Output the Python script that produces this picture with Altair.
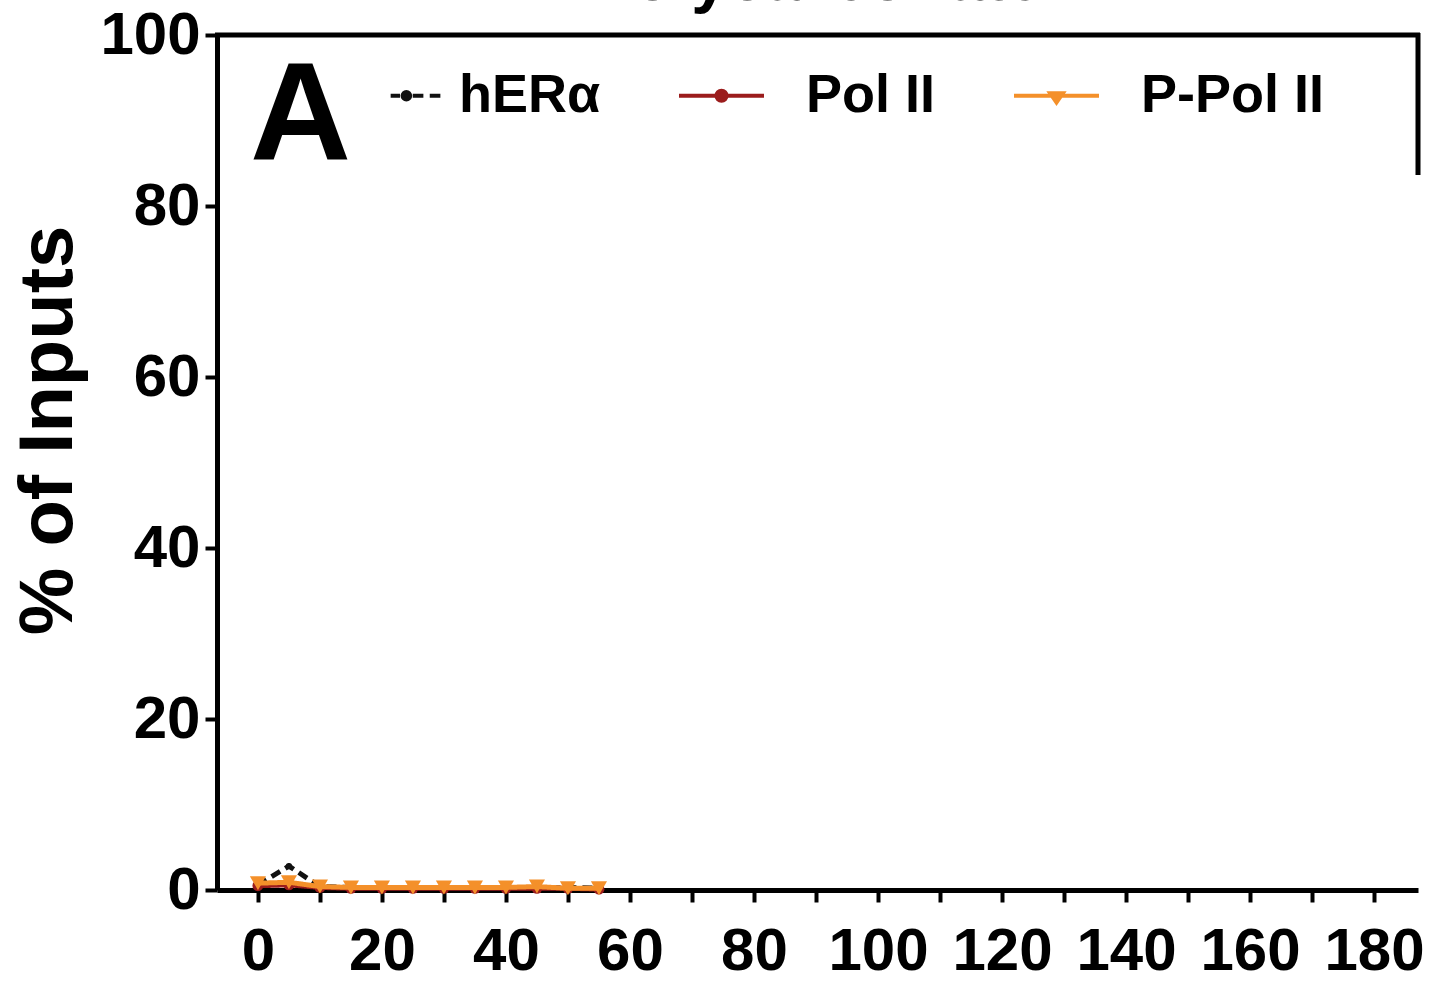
import altair as alt
import pandas as pd

# ---- data ----
x_vals = [0, 5, 10, 15, 20, 25, 30, 35, 40, 45, 50, 55]
her_a = [0.6, 2.8, 0.4, 0.3, 0.3, 0.2, 0.3, 0.2, 0.3, 0.2, 0.3, 0.2]
pol_ii = [0.5, 0.6, 0.3, 0.2, 0.2, 0.2, 0.2, 0.2, 0.2, 0.2, 0.2, 0.1]
p_pol_ii = [0.8, 0.9, 0.4, 0.3, 0.3, 0.3, 0.3, 0.3, 0.3, 0.4, 0.2, 0.2]

series_names = ["hERα", "Pol II", "P-Pol II"]
series_colors = ["#111111", "#9b1c1c", "#f4902a"]
x_ticks = list(range(0, 190, 10))
y_ticks = [0, 20, 40, 60, 80, 100]
panel_letter = "A"
panel_title = "Polycarbonate"
y_title = "% of Inputs"

FONT = "Liberation Sans"
W, H = 1201, 855

rows = []
for name, vals in zip(series_names, [her_a, pol_ii, p_pol_ii]):
    for xv, yv in zip(x_vals, vals):
        rows.append({"series": name, "x": xv, "y": yv})
df = pd.DataFrame(rows)

x_axis = alt.Axis(values=x_ticks, labelExpr="datum.value % 20 == 0 ? datum.label : ''",
                  tickSize=12, tickWidth=4, domainWidth=5, domainColor="black", tickColor="black",
                  labelFontSize=60, labelFont=FONT, labelFontWeight="bold", labelColor="black",
                  labelPadding=20, labelOverlap=False, labelFlush=False, grid=False, title=None)
y_axis = alt.Axis(values=y_ticks, tickSize=12, tickWidth=4, domainWidth=5, domainColor="black",
                  tickColor="black", labelFontSize=60, labelFont=FONT, labelFontWeight="bold",
                  labelColor="black", labelPadding=5, labelOverlap=False, labelFlush=False,
                  grid=False, title=y_title, titleFontSize=76, titleFont=FONT,
                  titleFontWeight="bold", titleColor="black", titlePadding=12, titleY=395)

X = alt.X("x:Q", scale=alt.Scale(domain=[-6.6, 187.1], nice=False, zero=False), axis=x_axis)
Y = alt.Y("y:Q", scale=alt.Scale(domain=[0, 100], nice=False), axis=y_axis)

styles = {
    "hERα": dict(dash=[10, 6], shape="circle", size=40),
    "Pol II": dict(dash=[1, 0], shape="circle", size=120),
    "P-Pol II": dict(dash=[1, 0], shape="triangle-down", size=260),
}

layers = []
for name, col in zip(series_names, series_colors):
    st = styles[name]
    base = alt.Chart(df).transform_filter(alt.datum.series == name)
    layers.append(base.mark_line(color=col, strokeWidth=5, strokeDash=st["dash"]).encode(x=X, y=Y))
    layers.append(base.mark_point(color=col, filled=True, opacity=1, shape=st["shape"],
                                  size=st["size"]).encode(x=X, y=Y))

# legend-only layer (no drawn marks)
legend_paths = [
    "M0.38,0H0.6M0.9,0H1.15M1.3,0H1.55M0.66,0a0.09,0.09 0 1,0 0.18,0a0.09,0.09 0 1,0 -0.18,0",
    "M-1,0H1M-0.12,0a0.12,0.12 0 1,0 0.24,0a0.12,0.12 0 1,0 -0.24,0",
    "M-1,0H1M-0.15,-0.06L0.15,-0.06L0,0.16Z",
]
leg = alt.Legend(orient="none", legendX=113, legendY=16, direction="horizontal", columns=3,
                 title=None, symbolSize=7225, symbolStrokeWidth=4, symbolOpacity=1,
                 labelFontSize=54, labelFont=FONT, labelFontWeight="bold", labelColor="black",
                 labelOffset=40, columnPadding=70, labelLimit=0, padding=0)
legend_df = pd.DataFrame({"series": series_names})
legend_layer = alt.Chart(legend_df).mark_point(filled=True, opacity=1, strokeWidth=4).encode(
    fill=alt.Fill("series:N", scale=alt.Scale(domain=series_names, range=series_colors), legend=leg),
    stroke=alt.Stroke("series:N", scale=alt.Scale(domain=series_names, range=series_colors), legend=leg),
    shape=alt.Shape("series:N", scale=alt.Scale(domain=series_names, range=legend_paths), legend=leg),
).transform_filter("false")

# frame lines (top and the short right edge)
frame_df = pd.DataFrame({"k": [0]})
top_line = alt.Chart(frame_df).mark_rule(color="black", strokeWidth=5).encode(
    x=alt.value(-2), x2=alt.value(W + 2), y=alt.value(0))
right_line = alt.Chart(frame_df).mark_rule(color="black", strokeWidth=5).encode(
    x=alt.value(W), y=alt.value(-2), y2=alt.value(140))

letter = alt.Chart(pd.DataFrame({"t": [panel_letter]})).mark_text(
    font=FONT, fontWeight="bold", fontSize=140, align="left", baseline="alphabetic", color="black"
).encode(text="t:N", x=alt.value(33), y=alt.value(125))

title_txt = alt.Chart(pd.DataFrame({"t": [panel_title]})).mark_text(
    font=FONT, fontWeight="bold", fontSize=66, align="center", baseline="alphabetic", color="black"
).encode(text="t:N", x=alt.value(599), y=alt.value(-35))

chart = alt.layer(top_line, right_line, *layers, legend_layer, letter, title_txt).properties(
    width=W, height=H,
    autosize=alt.AutoSizeParams(type="none"),
    padding={"left": 217, "top": 35, "right": 15, "bottom": 99},
    background="white",
).configure_view(stroke=None)

chart.save("out.html", embed_options={"renderer": "svg", "actions": False})
